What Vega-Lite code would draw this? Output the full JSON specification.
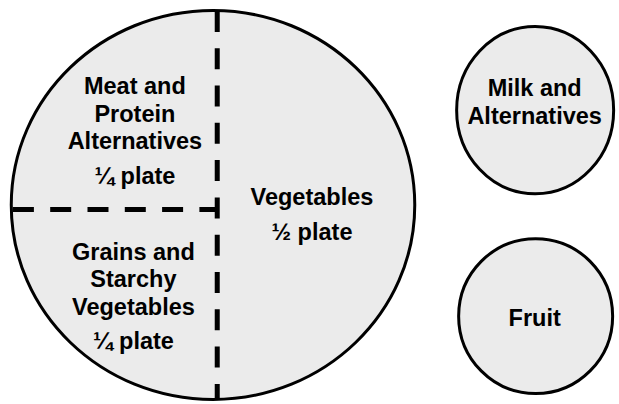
{
  "$schema": "https://vega.github.io/schema/vega-lite/v6.json",
  "width": 619,
  "height": 404,
  "autosize": {"type": "fit", "contains": "padding"},
  "padding": 0,
  "background": "white",
  "config": {"view": {"stroke": null}},
  "datasets": {
    "circles": [
      {"item": "plate", "x": 214.75, "y": 206.5},
      {"item": "milk", "x": 539.5, "y": 111},
      {"item": "fruit", "x": 540, "y": 318.5}
    ],
    "dividers": [
      {"x": 219, "y": 11, "x2": 219, "y2": 401},
      {"x": 13, "y": 211, "x2": 219, "y2": 211}
    ],
    "labels": [
      {"x": 136, "y": 95, "text": "Meat and"},
      {"x": 136, "y": 123, "text": "Protein"},
      {"x": 136, "y": 150, "text": "Alternatives"},
      {"x": 136, "y": 185, "text": "¼ plate"},
      {"x": 314.5, "y": 207, "text": "Vegetables"},
      {"x": 314.5, "y": 242, "text": "½ plate"},
      {"x": 134.5, "y": 262, "text": "Grains and"},
      {"x": 134.5, "y": 289, "text": "Starchy"},
      {"x": 134.5, "y": 317, "text": "Vegetables"},
      {"x": 134.5, "y": 352, "text": "¼ plate"},
      {"x": 539, "y": 97, "text": "Milk and"},
      {"x": 539, "y": 125, "text": "Alternatives"},
      {"x": 539, "y": 328, "text": "Fruit"}
    ]
  },
  "layer": [
    {
      "data": {"name": "circles"},
      "transform": [{"filter": "datum.item === 'plate'"}],
      "mark": {"type": "point", "filled": true, "fill": "#ebebeb", "fillOpacity": 1, "stroke": "black", "strokeWidth": 3, "opacity": 1,
               "shape": "M-1,0A1,0.964,0,1,1,1,0A1,0.964,0,1,1,-1,0Z", "size": 162812},
      "encoding": {
        "x": {"field": "x", "type": "quantitative", "scale": {"domain": [0, 619]}, "axis": null},
        "y": {"field": "y", "type": "quantitative", "scale": {"domain": [404, 0]}, "axis": null}
      }
    },
    {
      "data": {"name": "circles"},
      "transform": [{"filter": "datum.item === 'milk'"}],
      "mark": {"type": "point", "filled": true, "fill": "#ebebeb", "fillOpacity": 1, "stroke": "black", "strokeWidth": 3, "opacity": 1,
               "shape": "M-1,0A1,1.065,0,1,1,1,0A1,1.065,0,1,1,-1,0Z", "size": 24649},
      "encoding": {
        "x": {"field": "x", "type": "quantitative", "scale": {"domain": [0, 619]}, "axis": null},
        "y": {"field": "y", "type": "quantitative", "scale": {"domain": [404, 0]}, "axis": null}
      }
    },
    {
      "data": {"name": "circles"},
      "transform": [{"filter": "datum.item === 'fruit'"}],
      "mark": {"type": "point", "filled": true, "fill": "#ebebeb", "fillOpacity": 1, "stroke": "black", "strokeWidth": 3, "opacity": 1,
               "shape": "M-1,0A1,1.006,0,1,1,1,0A1,1.006,0,1,1,-1,0Z", "size": 23716},
      "encoding": {
        "x": {"field": "x", "type": "quantitative", "scale": {"domain": [0, 619]}, "axis": null},
        "y": {"field": "y", "type": "quantitative", "scale": {"domain": [404, 0]}, "axis": null}
      }
    },
    {
      "data": {"name": "dividers"},
      "mark": {"type": "rule", "color": "black", "strokeWidth": 5, "strokeDash": [21, 16.3], "strokeCap": "butt"},
      "encoding": {
        "x": {"field": "x", "type": "quantitative", "scale": {"domain": [0, 619]}, "axis": null},
        "y": {"field": "y", "type": "quantitative", "scale": {"domain": [404, 0]}, "axis": null},
        "x2": {"field": "x2"},
        "y2": {"field": "y2"}
      }
    },
    {
      "data": {"name": "labels"},
      "mark": {"type": "text", "font": "Liberation Sans", "fontWeight": "bold", "fontSize": 23.5, "align": "center", "baseline": "alphabetic", "color": "black"},
      "encoding": {
        "x": {"field": "x", "type": "quantitative", "scale": {"domain": [0, 619]}, "axis": null},
        "y": {"field": "y", "type": "quantitative", "scale": {"domain": [404, 0]}, "axis": null},
        "text": {"field": "text"}
      }
    }
  ]
}
